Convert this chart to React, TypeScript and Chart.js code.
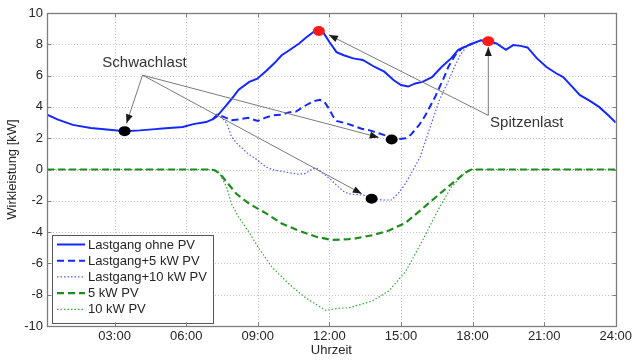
import React, { useEffect, useRef } from 'react';
import { Chart, registerables } from 'chart.js';

Chart.register(...registerables);

// ---------- data (hours / kW) ----------
const X_MIN = 1 / 6;
const X_MAX = 24;
const xTickHours = [3, 6, 9, 12, 15, 18, 21, 24];
const Y_MIN = -10;
const Y_MAX = 10;
const Y_STEP = 2;

const seriesLabels = [
  'Lastgang ohne PV',
  'Lastgang+5 kW PV',
  'Lastgang+10 kW PV',
  '5 kW PV',
  '10 kW PV',
];

const mainHours = [0.17, 0.6, 1.25, 2.0, 2.67, 3.42, 4.05, 4.7, 5.0, 5.43, 5.85, 6.3, 6.83, 7.1, 7.26, 7.68, 7.95, 8.2, 8.64, 8.98, 9.35, 9.7, 10.0, 10.35, 10.73, 11.0, 11.35, 11.6, 11.77, 12.0, 12.3, 12.6, 13.0, 13.4, 13.9, 14.3, 14.7, 15.0, 15.3, 15.6, 15.9, 16.3, 16.7, 17.1, 17.4, 17.7, 18.0, 18.35, 18.65, 19.0, 19.4, 19.7, 20.0, 20.3, 20.7, 21.1, 21.5, 21.8, 22.2, 22.5, 22.9, 23.3, 23.7, 24.0];
const mainValues = [3.5, 3.2, 2.85, 2.65, 2.55, 2.45, 2.5, 2.58, 2.62, 2.67, 2.72, 2.9, 3.03, 3.2, 3.35, 4.1, 4.6, 5.1, 5.6, 5.8, 6.3, 6.8, 7.3, 7.65, 8.05, 8.4, 8.8, 8.85, 8.7, 8.15, 7.5, 7.3, 7.1, 7.0, 6.55, 6.25, 5.7, 5.4, 5.3, 5.5, 5.6, 5.9, 6.55, 7.1, 7.65, 7.85, 8.05, 8.25, 8.2, 8.05, 7.65, 7.95, 7.9, 7.8, 7.1, 6.55, 6.15, 5.9, 5.25, 4.75, 4.4, 4.0, 3.45, 3.0];

const plus5Hours = [7.1, 7.3, 7.6, 7.9, 8.2, 8.6, 9.0, 9.3, 9.6, 10.0, 10.3, 10.6, 10.9, 11.3, 11.6, 11.8, 12.0, 12.15, 12.3, 12.7, 13.0, 13.35, 13.7, 14.1, 14.4, 14.6, 14.9, 15.2, 15.4, 15.74, 16.0, 16.45, 16.75, 17.0, 17.27, 17.55, 17.83, 18.0];
const plus5Values = [3.2, 3.5, 3.35, 3.15, 3.2, 3.3, 3.1, 3.3, 3.45, 3.5, 3.65, 3.7, 4.0, 4.35, 4.45, 4.3, 3.85, 3.4, 3.1, 2.95, 2.8, 2.6, 2.5, 2.3, 2.15, 1.95, 1.95, 2.0, 2.2, 2.8, 3.4, 4.7, 5.7, 6.6, 7.3, 7.75, 7.95, 8.05];

const plus10Hours = [7.1, 7.3, 7.5, 7.7, 7.9, 8.1, 8.35, 8.6, 8.9, 9.15, 9.35, 9.6, 9.9, 10.3, 10.7, 11.0, 11.25, 11.45, 11.7, 11.9, 12.1, 12.4, 12.6, 12.8, 13.1, 13.5, 13.8, 14.2, 14.6, 14.9, 15.1, 15.3, 15.55, 15.8, 16.2, 16.6, 17.0, 17.27, 17.48, 17.7, 17.85];
const plus10Values = [3.2, 3.5, 3.3, 2.95, 2.1, 1.7, 1.35, 1.0, 0.7, 0.4, 0.15, 0.0, -0.1, -0.2, -0.3, -0.25, 0.0, 0.1, -0.2, -0.45, -0.7, -1.15, -1.4, -1.55, -1.6, -1.65, -1.85, -1.95, -1.95, -1.5, -1.1, -0.6, 0.1, 0.8, 2.6, 4.4, 5.7, 6.65, 7.3, 7.75, 8.0];

const pv5Hours = [0.17, 7.0, 7.2, 7.4, 7.7, 8.1, 8.65, 9.35, 10.0, 10.7, 11.45, 12.1, 12.8, 13.1, 13.8, 14.5, 15.2, 15.9, 16.55, 17.3, 17.7, 17.95, 24.0];
const pv5Values = [0, 0, -0.05, -0.25, -0.8, -1.55, -2.2, -2.8, -3.45, -3.9, -4.3, -4.5, -4.45, -4.4, -4.2, -3.9, -3.4, -2.5, -1.65, -0.7, -0.2, 0, 0];

const pv10Hours = [0.17, 7.1, 7.3, 7.45, 7.7, 7.9, 8.2, 8.65, 9.05, 9.6, 10.3, 11.0, 11.85, 12.5, 12.8, 13.36, 13.8, 14.5, 15.2, 15.9, 16.55, 17.1, 17.55, 17.8, 18.0, 24.0];
const pv10Values = [0, 0, -0.1, -0.4, -1.15, -2.2, -3.05, -4.05, -5.05, -6.25, -7.3, -8.2, -9.0, -8.85, -8.85, -8.6, -8.4, -7.75, -6.5, -4.55, -2.6, -1.15, -0.4, -0.05, 0, 0];

// highlighted points
const schwachMarkerHours = [3.42, 14.61, 13.77];
const schwachMarkerValues = [2.45, 1.92, -1.87];
const spitzenMarkerHours = [11.56, 18.66];
const spitzenMarkerValues = [8.85, 8.2];

// annotation labels and arrows (hours / kW)
const schwachLabel = { text: 'Schwachlast', x: 4.25, y: 6.8 };
const schwachOrigin = { x: 4.17, y: 6.03 };
const schwachTipHours = [3.5, 14.07, 13.36];
const schwachTipValues = [2.95, 2.05, -1.55];
const spitzenLabel = { text: 'Spitzenlast', x: 20.27, y: 2.95 };
const spitzenOrigin = { x: 18.66, y: 3.46 };
const spitzenTipHours = [18.66, 11.98];
const spitzenTipValues = [7.82, 8.6];

// ---------- styles ----------
const FONT = "'Liberation Sans', Arial, sans-serif";
const TEXT_COLOR = '#262626';
const styles = [
  { color: '#1428ff', width: 2, dash: [] as number[] },
  { color: '#1428ff', width: 2, dash: [7, 4] },
  { color: '#4a5cff', width: 1.2, dash: [1.5, 2] },
  { color: '#1e8c1e', width: 2.2, dash: [7, 4] },
  { color: '#35a835', width: 1.2, dash: [1.5, 2] },
];

const zip = (xs: number[], ys: number[]) => xs.map((x, i) => ({ x, y: ys[i] }));

const yTickValues = () => {
  const out: number[] = [];
  for (let v = Y_MIN; v <= Y_MAX; v += Y_STEP) out.push(v);
  return out;
};

const overlayPlugin = {
  id: 'overlay',
  beforeDatasetsDraw(chart: any) {
    const { ctx, chartArea } = chart;
    const xs = chart.scales.x;
    const ys = chart.scales.y;
    ctx.save();
    ctx.strokeStyle = '#c4c4c4';
    ctx.lineWidth = 1;
    ctx.setLineDash([1, 2]);
    xTickHours.forEach((h) => {
      const x = Math.round(xs.getPixelForValue(h)) + 0.5;
      ctx.beginPath();
      ctx.moveTo(x, chartArea.top);
      ctx.lineTo(x, chartArea.bottom);
      ctx.stroke();
    });
    yTickValues().forEach((v) => {
      const y = Math.round(ys.getPixelForValue(v)) + 0.5;
      ctx.beginPath();
      ctx.moveTo(chartArea.left, y);
      ctx.lineTo(chartArea.right, y);
      ctx.stroke();
    });
    ctx.restore();
  },
  afterDatasetsDraw(chart: any) {
    const { ctx, chartArea } = chart;
    const xs = chart.scales.x;
    const ys = chart.scales.y;
    const px = (h: number) => xs.getPixelForValue(h);
    const py = (v: number) => ys.getPixelForValue(v);

    const arrow = (x0: number, y0: number, x1: number, y1: number) => {
      ctx.save();
      ctx.strokeStyle = '#7a7a7a';
      ctx.lineWidth = 1;
      ctx.setLineDash([]);
      ctx.beginPath();
      ctx.moveTo(x0, y0);
      ctx.lineTo(x1, y1);
      ctx.stroke();
      const ang = Math.atan2(y1 - y0, x1 - x0);
      const L = 9;
      const W = 3.5;
      const bx = x1 - L * Math.cos(ang);
      const by = y1 - L * Math.sin(ang);
      ctx.fillStyle = '#1a1a1a';
      ctx.beginPath();
      ctx.moveTo(x1, y1);
      ctx.lineTo(bx + W * Math.sin(ang), by - W * Math.cos(ang));
      ctx.lineTo(bx - W * Math.sin(ang), by + W * Math.cos(ang));
      ctx.closePath();
      ctx.fill();
      ctx.restore();
    };

    schwachTipHours.forEach((h, i) =>
      arrow(px(schwachOrigin.x), py(schwachOrigin.y), px(h), py(schwachTipValues[i]))
    );
    spitzenTipHours.forEach((h, i) =>
      arrow(px(spitzenOrigin.x), py(spitzenOrigin.y), px(h), py(spitzenTipValues[i]))
    );

    const ellipse = (h: number, v: number, color: string) => {
      ctx.save();
      ctx.fillStyle = color;
      ctx.beginPath();
      ctx.ellipse(px(h), py(v), 6, 5, 0, 0, Math.PI * 2);
      ctx.fill();
      ctx.restore();
    };
    schwachMarkerHours.forEach((h, i) => ellipse(h, schwachMarkerValues[i], '#000000'));
    spitzenMarkerHours.forEach((h, i) => ellipse(h, spitzenMarkerValues[i], '#ff1a1a'));

    ctx.save();
    ctx.fillStyle = '#333333';
    ctx.font = `15px ${FONT}`;
    ctx.textAlign = 'center';
    ctx.textBaseline = 'middle';
    ctx.fillText(schwachLabel.text, px(schwachLabel.x), py(schwachLabel.y));
    ctx.fillText(spitzenLabel.text, px(spitzenLabel.x), py(spitzenLabel.y));
    ctx.restore();

    // legend
    const lx = chartArea.left + 5;
    const lw = 161;
    const lh = 88;
    const ly = chartArea.bottom - 91;
    ctx.save();
    ctx.fillStyle = '#ffffff';
    ctx.fillRect(lx, ly, lw, lh);
    ctx.strokeStyle = '#555555';
    ctx.lineWidth = 1;
    ctx.strokeRect(lx + 0.5, ly + 0.5, lw, lh);
    ctx.font = `13px ${FONT}`;
    ctx.textAlign = 'left';
    ctx.textBaseline = 'middle';
    seriesLabels.forEach((label, i) => {
      const rowY = ly + 9.5 + i * 16.2;
      const st = styles[i];
      ctx.strokeStyle = st.color;
      ctx.lineWidth = st.width;
      ctx.setLineDash(st.dash);
      ctx.beginPath();
      ctx.moveTo(lx + 5, rowY);
      ctx.lineTo(lx + 33, rowY);
      ctx.stroke();
      ctx.setLineDash([]);
      ctx.fillStyle = TEXT_COLOR;
      ctx.fillText(label, lx + 36, rowY + 0.5);
    });
    ctx.restore();
  },
  afterDraw(chart: any) {
    const { ctx, chartArea } = chart;
    const xs = chart.scales.x;
    const ys = chart.scales.y;
    const L = Math.round(chartArea.left) + 0.5;
    const T = Math.round(chartArea.top) + 0.5;
    const R = Math.round(chartArea.right) + 0.5;
    const B = Math.round(chartArea.bottom) + 0.5;
    ctx.save();
    ctx.strokeStyle = '#7d7d7d';
    ctx.lineWidth = 1.3;
    ctx.setLineDash([]);
    ctx.strokeRect(L, T, R - L, B - T);
    ctx.lineWidth = 1;
    ctx.beginPath();
    xTickHours.forEach((h) => {
      const x = Math.round(xs.getPixelForValue(h)) + 0.5;
      ctx.moveTo(x, B);
      ctx.lineTo(x, B - 4);
      ctx.moveTo(x, T);
      ctx.lineTo(x, T + 4);
    });
    yTickValues().forEach((v) => {
      const y = Math.round(ys.getPixelForValue(v)) + 0.5;
      ctx.moveTo(L, y);
      ctx.lineTo(L + 4, y);
      ctx.moveTo(R, y);
      ctx.lineTo(R - 4, y);
    });
    ctx.stroke();
    ctx.restore();
  },
};

export default function App() {
  const canvasRef = useRef<HTMLCanvasElement | null>(null);

  useEffect(() => {
    if (!canvasRef.current) return;
    Chart.defaults.font.family = FONT;
    const dataSets = [
      zip(mainHours, mainValues),
      zip(plus5Hours, plus5Values),
      zip(plus10Hours, plus10Values),
      zip(pv5Hours, pv5Values),
      zip(pv10Hours, pv10Values),
    ];
    const chart = new Chart(canvasRef.current, {
      type: 'line',
      data: {
        datasets: dataSets.map((d, i) => ({
          label: seriesLabels[i],
          data: d,
          borderColor: styles[i].color,
          borderWidth: styles[i].width,
          borderDash: styles[i].dash,
          pointRadius: 0,
          tension: 0,
          fill: false,
        })),
      },
      options: {
        animation: false,
        responsive: true,
        maintainAspectRatio: false,
        layout: { padding: { top: 13, right: 17, left: 0, bottom: 0 } },
        plugins: {
          legend: { display: false },
          tooltip: { enabled: false },
        },
        scales: {
          x: {
            type: 'linear',
            min: X_MIN,
            max: X_MAX,
            afterBuildTicks: (axis: any) => {
              axis.ticks = xTickHours.map((v) => ({ value: v }));
            },
            afterFit: (s: any) => {
              s.height = 34;
            },
            grid: { display: false, drawTicks: false },
            border: { display: false },
            ticks: {
              color: TEXT_COLOR,
              font: { size: 13 },
              padding: 3,
              maxRotation: 0,
              autoSkip: false,
              callback: (v: any) => `${String(v).padStart(2, '0')}:00`,
            },
            title: {
              display: true,
              text: 'Uhrzeit',
              color: TEXT_COLOR,
              font: { size: 13 },
              padding: { top: 0, bottom: 2 },
            },
          },
          y: {
            min: Y_MIN,
            max: Y_MAX,
            afterFit: (s: any) => {
              s.width = 47;
            },
            grid: { display: false, drawTicks: false },
            border: { display: false },
            ticks: {
              stepSize: Y_STEP,
              color: TEXT_COLOR,
              font: { size: 13 },
              padding: 4,
            },
            title: {
              display: true,
              text: 'Wirkleistung [kW]',
              color: TEXT_COLOR,
              font: { size: 13 },
              padding: { top: 5, bottom: 0 },
            },
          },
        },
      },
      plugins: [overlayPlugin],
    });
    return () => chart.destroy();
  }, []);

  return (
    <div style={{ position: 'absolute', left: 0, top: 0, width: 635, height: 360, background: '#fff' }}>
      <canvas ref={canvasRef} />
    </div>
  );
}
